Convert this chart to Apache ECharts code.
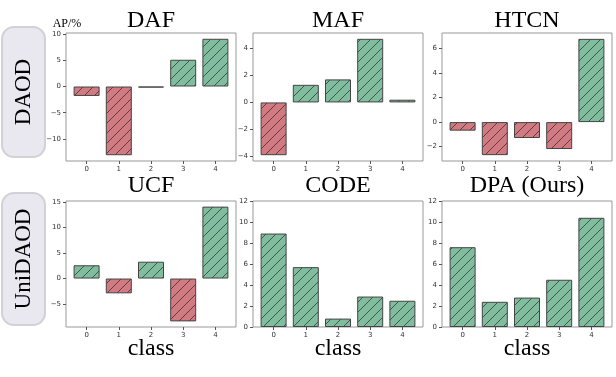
<!DOCTYPE html>
<html>
<head>
<meta charset="utf-8">
<script src="https://cdn.jsdelivr.net/npm/echarts@6/dist/echarts.min.js"></script>
<style>
html,body{margin:0;padding:0;background:#fff;}
#main{width:616px;height:377px;}
</style>
</head>
<body>
<div id="main"></div>
<script>
// class ids on the x axis
var classes = [0, 1, 2, 3, 4];
var titles = ['DAF', 'MAF', 'HTCN', 'UCF', 'CODE', 'DPA (Ours)'];

// AP change per class (%)
var dafValues  = [-1.8, -13.1, -0.2, 5.1, 9.1];
var mafValues  = [-3.9, 1.3, 1.7, 4.7, 0.2];
var htcnValues = [-0.7, -2.7, -1.3, -2.2, 6.8];
var ucfValues  = [2.6, -2.9, 3.3, -8.4, 14.1];
var codeValues = [8.9, 5.7, 0.8, 2.9, 2.5];
var dpaValues  = [7.6, 2.4, 2.8, 4.5, 10.4];

// y tick labels per panel
var dafTicks  = [-10, -5, 0, 5, 10];
var mafTicks  = [-4, -2, 0, 2, 4];
var htcnTicks = [-2, 0, 2, 4, 6];
var ucfTicks  = [-5, 0, 5, 10, 15];
var codeTicks = [0, 2, 4, 6, 8, 10, 12];
var dpaTicks  = [0, 2, 4, 6, 8, 10, 12];

// y limits per panel
var dafRange  = [-14.2, 10.2];
var mafRange  = [-4.33, 5.13];
var htcnRange = [-3.18, 7.28];
var ucfRange  = [-9.5, 15.2];
var codeRange = [0, 12];
var dpaRange  = [0, 12];

var allValues = [dafValues, mafValues, htcnValues, ucfValues, codeValues, dpaValues];
var allTicks = [dafTicks, mafTicks, htcnTicks, ucfTicks, codeTicks, dpaTicks];
var allRanges = [dafRange, mafRange, htcnRange, ucfRange, codeRange, dpaRange];

function hatch(fill){
    var c = document.createElement('canvas');
    c.width = 10; c.height = 10;
    var ctx = c.getContext('2d');
    ctx.fillStyle = fill;
    ctx.fillRect(0, 0, 10, 10);
    ctx.strokeStyle = 'rgba(20,20,20,0.75)';
    ctx.lineWidth = 0.8;
    ctx.beginPath();
    ctx.moveTo(-1, 11); ctx.lineTo(11, -1);
    ctx.moveTo(-1, 1); ctx.lineTo(1, -1);
    ctx.moveTo(9, 11); ctx.lineTo(11, 9);
    ctx.stroke();
    return {image: c, repeat: 'repeat'};
}
var greenFill = hatch('#80bc9e');
var redFill = hatch('#d27a82');

var lefts = [66, 253, 442];
var tops = [33, 201];
var gw = 170;
var heights = [128, 126];
var xMin = -0.64, xMax = 4.64;
var barW = Math.round(0.8 * gw / (xMax - xMin));

function fmt(v){
    return v < 0 ? '\u2212' + Math.abs(v) : String(v);
}

var grids = [], xAxes = [], yAxes = [], series = [], graphics = [];
for (var p = 0; p < 6; p++) {
    var col = p % 3, row = Math.floor(p / 3);
    grids.push({
        left: lefts[col], top: tops[row], width: gw, height: heights[row],
        show: true, borderColor: '#999', borderWidth: 1, backgroundColor: '#fff'
    });
    xAxes.push({
        type: 'value', gridIndex: p, min: xMin, max: xMax, position: 'bottom',
        axisLine: {show: false, onZero: false},
        splitLine: {show: false},
        axisTick: {show: true, length: 3, customValues: classes, lineStyle: {color: '#555'}},
        axisLabel: {customValues: classes, margin: 5, fontSize: 7, color: '#333', fontFamily: 'DejaVu Sans'}
    });
    yAxes.push({
        type: 'value', gridIndex: p, min: allRanges[p][0], max: allRanges[p][1], position: 'left',
        axisLine: {show: false, onZero: false},
        splitLine: {show: false},
        axisTick: {show: true, length: 3, customValues: allTicks[p], lineStyle: {color: '#555'}},
        axisLabel: {customValues: allTicks[p], margin: 5, fontSize: 7, color: '#333', fontFamily: 'DejaVu Sans', formatter: fmt}
    });
    series.push({
        type: 'bar', xAxisIndex: p, yAxisIndex: p, barWidth: barW,
        silent: true, animation: false,
        data: allValues[p].map(function(v, i){
            return {
                value: [classes[i], v],
                itemStyle: {color: v >= 0 ? greenFill : redFill, borderColor: '#444', borderWidth: 1}
            };
        })
    });
    graphics.push({
        type: 'text', x: lefts[col] + gw / 2, y: row === 0 ? 21 : 186,
        style: {text: titles[p], font: '24px "Liberation Serif"', fill: '#000', align: 'center', verticalAlign: 'middle'}
    });
    if (row === 1) {
        graphics.push({
            type: 'text', x: lefts[col] + gw / 2, y: 349,
            style: {text: 'class', font: '24px "Liberation Serif"', fill: '#000', align: 'center', verticalAlign: 'middle'}
        });
    }
}

// side labels
graphics.push({type: 'rect', shape: {x: 2, y: 27, width: 43, height: 130, r: 12},
    style: {fill: '#e9e7ef', stroke: '#d2d2d6', lineWidth: 2}});
graphics.push({type: 'text', x: 24, y: 92, rotation: Math.PI / 2,
    style: {text: 'DAOD', font: '23px "Liberation Serif"', fill: '#000', align: 'center', verticalAlign: 'middle'}});
graphics.push({type: 'rect', shape: {x: 2, y: 193, width: 43, height: 132, r: 12},
    style: {fill: '#e9e7ef', stroke: '#d2d2d6', lineWidth: 2}});
graphics.push({type: 'text', x: 24, y: 259, rotation: Math.PI / 2,
    style: {text: 'UniDAOD', font: '23px "Liberation Serif"', fill: '#000', align: 'center', verticalAlign: 'middle'}});
graphics.push({type: 'text', x: 67, y: 24,
    style: {text: 'AP/%', font: '12px "Liberation Serif"', fill: '#000', align: 'center', verticalAlign: 'middle'}});

var myChart = echarts.init(document.getElementById('main'), null, {renderer: 'canvas'});
myChart.setOption({
    animation: false,
    backgroundColor: '#fff',
    grid: grids,
    xAxis: xAxes,
    yAxis: yAxes,
    series: series,
    graphic: graphics
});
</script>
</body>
</html>
